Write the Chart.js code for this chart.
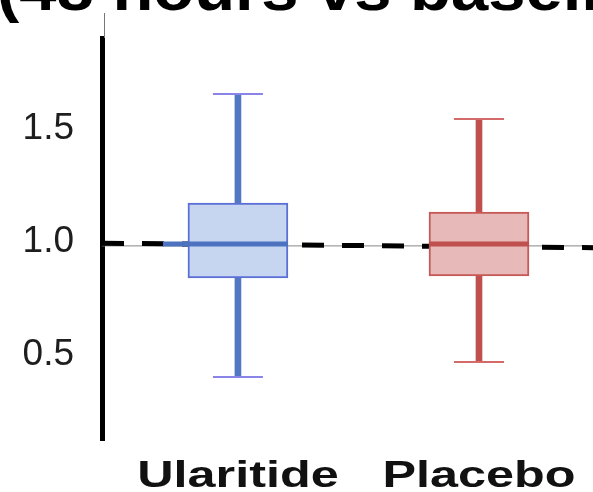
<!DOCTYPE html>
<html>
<head>
<meta charset="utf-8">
<script src="https://cdn.jsdelivr.net/npm/chart.js@4/dist/chart.umd.min.js"></script>
<style>
  html, body { margin: 0; padding: 0; background: #fff; }
  #wrap { width: 593px; height: 492px; position: relative; }
</style>
</head>
<body>
<div id="wrap"><canvas id="boxChart"></canvas></div>
<script>
// data
const categories = ['Ularitide', 'Placebo'];
const catPos = [1, 2];
const whiskerLow = [0.403, 0.469];
const q1 = [0.841, 0.850];
const median = [0.991, 0.991];
const q3 = [1.173, 1.133];
const whiskerHigh = [1.655, 1.544];
const yTicks = [0.5, 1.0, 1.5];
const refX = [0.436, 2.473];
const refDashed = [0.995, 0.975];
const refThin = [0.983, 0.983];
const titleText = '(48 hours vs baseline)';

// styles
const boxFill = ['#c7d6f0', '#e7b9b8'];
const boxEdge = ['#5b6fd6', '#c55a57'];
const whiskerColor = ['#5278c4', '#c0504d'];
const capColor = ['#8b84e8', '#d46a6a'];
const medianColor = ['#4d72c0', '#c0504d'];
const medianLeftExtra = [25, 0];

// caps, medians, labels and title drawn through the scales
const boxPlotExtras = {
    id: 'boxPlotExtras',
    afterDatasetsDraw(chart) {
        const { ctx, scales: { x, y } } = chart;
        ctx.save();
        categories.forEach((name, i) => {
            const cx = x.getPixelForValue(catPos[i]);
            ctx.strokeStyle = capColor[i];
            ctx.lineWidth = 2;
            [whiskerLow[i], whiskerHigh[i]].forEach(v => {
                const py = y.getPixelForValue(v);
                ctx.beginPath();
                ctx.moveTo(cx - 25, py);
                ctx.lineTo(cx + 25, py);
                ctx.stroke();
            });
            const my = y.getPixelForValue(median[i]);
            ctx.strokeStyle = medianColor[i];
            ctx.lineWidth = 5;
            ctx.beginPath();
            ctx.moveTo(cx - 50 - medianLeftExtra[i], my);
            ctx.lineTo(cx + 50, my);
            ctx.stroke();
        });
        ctx.restore();
    },
    afterDraw(chart) {
        const { ctx, chartArea, scales: { x } } = chart;
        ctx.save();
        // thin axis stub above the plot
        ctx.strokeStyle = '#777';
        ctx.lineWidth = 1;
        ctx.beginPath();
        ctx.moveTo(chartArea.left + 2.5, chartArea.top);
        ctx.lineTo(chartArea.left + 2.5, chartArea.top - 25);
        ctx.stroke();

        // category labels
        ctx.fillStyle = '#111';
        ctx.font = 'bold 37px "Liberation Sans", Arial, sans-serif';
        ctx.textAlign = 'center';
        ctx.textBaseline = 'alphabetic';
        categories.forEach((name, i) => {
            const cx = x.getPixelForValue(catPos[i]);
            ctx.save();
            ctx.translate(cx, 487);
            ctx.scale(1.36, 1);
            ctx.fillText(name, 0, 0);
            ctx.restore();
        });

        // title, cut off by the top edge
        ctx.fillStyle = '#000';
        ctx.font = 'bold 62px "Liberation Sans", Arial, sans-serif';
        ctx.textAlign = 'left';
        ctx.textBaseline = 'alphabetic';
        ctx.save();
        ctx.translate(-3, 10);
        ctx.scale(1.08, 1);
        ctx.fillText(titleText, 0, 0);
        ctx.restore();
        ctx.restore();
    }
};

const ctx = document.getElementById('boxChart').getContext('2d');
new Chart(ctx, {
    type: 'bar',
    data: {
        datasets: [{
            label: 'box',
            order: 1,
            grouped: false,
            data: catPos.map((p, i) => ({ x: p, y: [q1[i], q3[i]] })),
            backgroundColor: boxFill,
            borderColor: boxEdge,
            borderWidth: 2,
            borderSkipped: false,
            barThickness: 100
        }, {
            label: 'whisker',
            order: 2,
            grouped: false,
            data: catPos.map((p, i) => ({ x: p, y: [whiskerLow[i], whiskerHigh[i]] })),
            backgroundColor: whiskerColor,
            borderWidth: 0,
            barThickness: 6
        }, {
            type: 'line',
            label: 'baseline',
            order: 3,
            data: refX.map((v, i) => ({ x: v, y: refDashed[i] })),
            borderColor: '#000',
            borderWidth: 5,
            borderDash: [22, 18],
            pointRadius: 0
        }, {
            type: 'line',
            label: 'thin',
            order: 4,
            data: refX.map((v, i) => ({ x: v, y: refThin[i] })),
            borderColor: '#888',
            borderWidth: 1,
            pointRadius: 0
        }]
    },
    options: {
        responsive: true,
        maintainAspectRatio: false,
        animation: false,
        layout: { padding: { top: 38, bottom: 52, left: 0, right: 0 } },
        plugins: {
            legend: { display: false },
            tooltip: { enabled: false },
            title: { display: false }
        },
        scales: {
            x: {
                type: 'linear',
                offset: false,
                min: refX[0],
                max: refX[1],
                display: false
            },
            y: {
                min: 0.124,
                max: 1.903,
                grid: { display: false, drawTicks: false },
                border: { display: true, color: '#000', width: 5 },
                ticks: {
                    includeBounds: false,
                    stepSize: 0.5,
                    padding: 28,
                    color: '#1e1e1e',
                    font: { size: 37, family: '"Liberation Sans", Arial, sans-serif' },
                    callback: v => yTicks.includes(v) ? v.toFixed(1) : ''
                },
                afterFit: scale => {
                    scale.width = 102;
                    scale.paddingTop = 0;
                    scale.paddingBottom = 0;
                }
            }
        }
    },
    plugins: [boxPlotExtras]
});
</script>
</body>
</html>
